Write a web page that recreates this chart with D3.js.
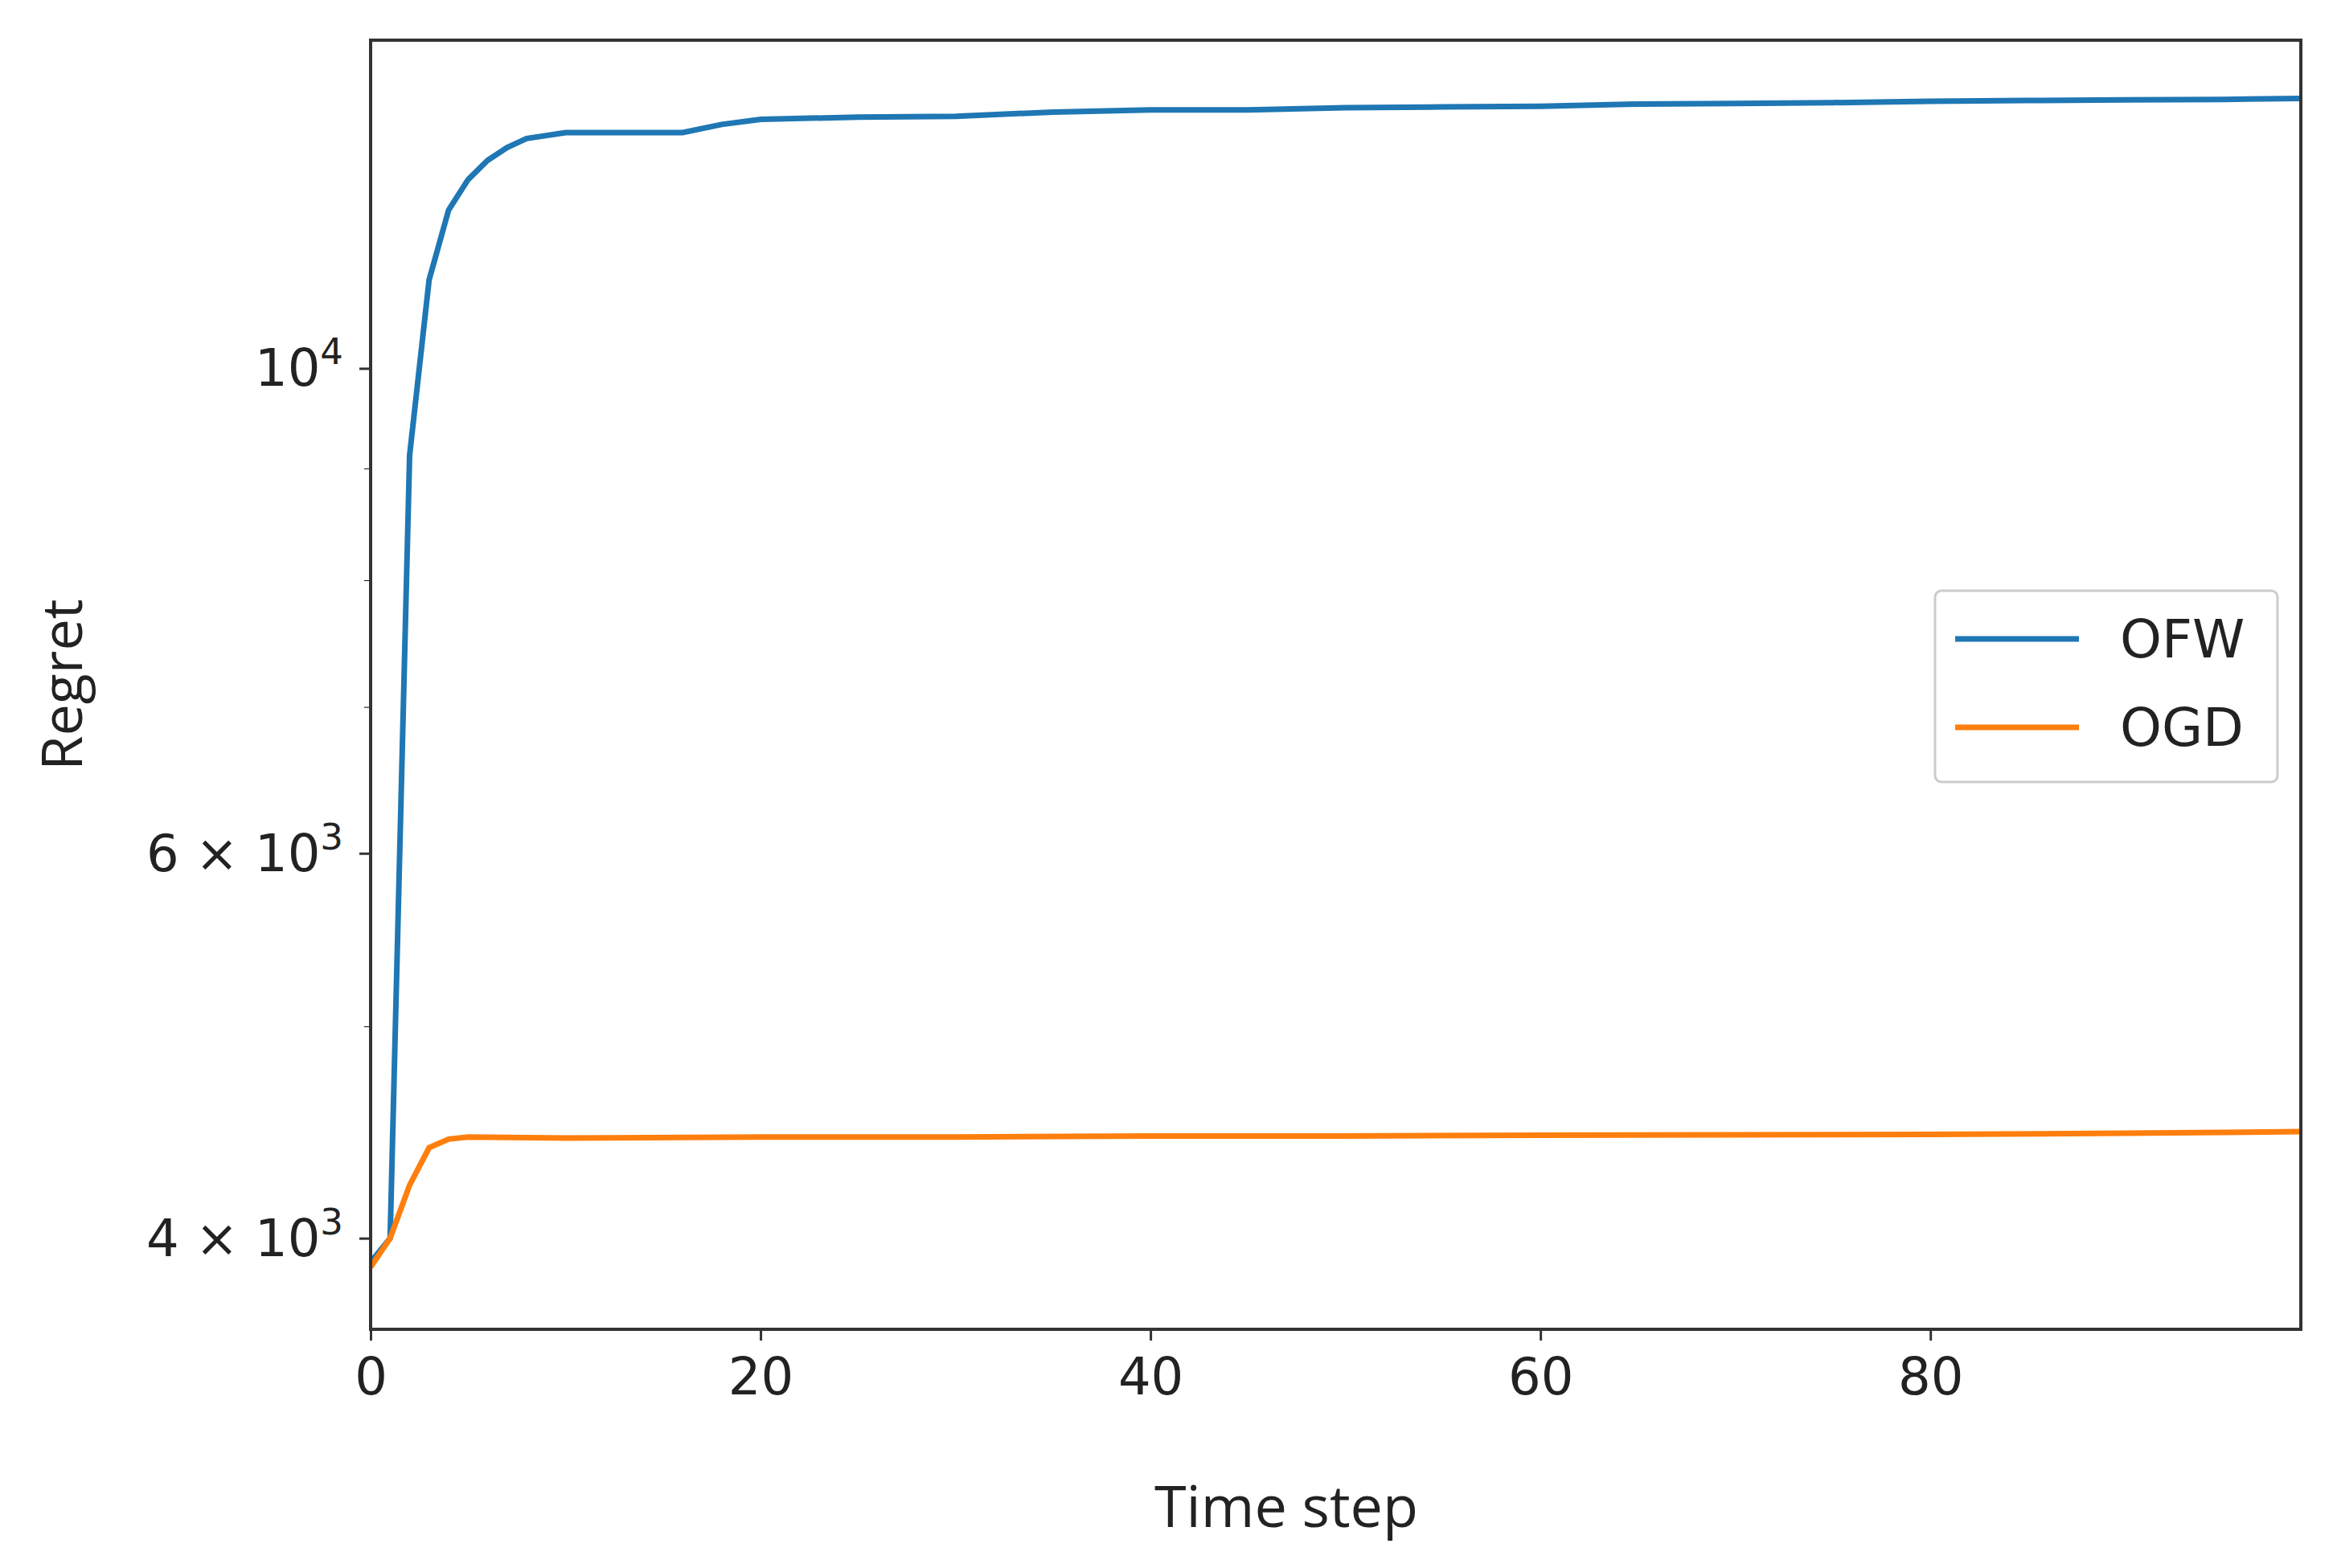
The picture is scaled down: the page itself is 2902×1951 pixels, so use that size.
<!DOCTYPE html>
<html><head><meta charset="utf-8">
<script src="https://cdn.jsdelivr.net/npm/d3@7"></script>
<style>body{margin:0;background:#fff}</style></head>
<body><svg id="c" width="2902" height="1951"></svg>
<script>
const ofwT = [0,1,2,3,4,5,6,7,8,10,12,16,18,20,25,30,35,40,45,50,55,60,65,70,75,80,85,90,95,99];
const ofwV = [3900,4000,9125,10977,11815,12200,12450,12620,12740,12820,12820,12820,12930,13000,13030,13040,13100,13130,13130,13160,13170,13180,13210,13220,13230,13250,13260,13270,13275,13290];
const ogdT = [0,1,2,3,4,5,10,20,30,40,50,60,70,80,90,99];
const ogdV = [3880,4000,4230,4400,4440,4450,4445,4450,4450,4455,4455,4458,4460,4462,4468,4475];
const xTicks = [0,20,40,60,80];
const yMajor = [4000,6000,10000];
const yMinor = [5000,7000,8000,9000];
const seriesNames = ["OFW","OGD"];
const colors = ["#1f77b4","#ff7f0e"];

const svg = d3.select("#c");
const L=461,R=2862,T=50,B=1654;
const x = d3.scaleLinear().domain([0,99]).range([L,R]);
const y = d3.scaleLog().domain([3634,14130]).range([B,T]);
const font = "'DejaVu Sans', sans-serif";
const line = d3.line().x(d=>x(d[0])).y(d=>y(d[1]));
const series = [d3.zip(ofwT,ofwV), d3.zip(ogdT,ogdV)];
const g = svg.append("g");
g.append("clipPath").attr("id","cp").append("rect").attr("x",L).attr("y",T).attr("width",R-L).attr("height",B-T);
series.forEach((s,i)=>g.append("path").attr("d",line(s)).attr("fill","none")
  .attr("stroke",colors[i]).attr("stroke-width",7).attr("clip-path","url(#cp)"));

const xa = svg.append("g").attr("transform",`translate(0,${B})`)
  .call(d3.axisBottom(x).tickValues(xTicks).tickSize(14).tickPadding(22).tickFormat(d3.format("d")));
const ya = svg.append("g").attr("transform",`translate(${L},0)`)
  .call(d3.axisLeft(y).tickValues(yMajor).tickSize(14).tickPadding(14).tickFormat(()=>""));
svg.append("g").attr("transform",`translate(${L},0)`)
  .call(d3.axisLeft(y).tickValues(yMinor).tickSize(8).tickFormat(()=>"")).select(".domain").remove();
[xa,ya].forEach(a=>{a.selectAll("line").attr("stroke","#333").attr("stroke-width",3);
  a.select(".domain").remove();
  a.selectAll("text").attr("font-family",font).attr("font-size",64).attr("fill","#222");});
const lbl = {4000:["4 × 10","3"],6000:["6 × 10","3"],10000:["10","4"]};
yMajor.forEach(v=>{
  const t = svg.append("text").attr("x",L-34).attr("y",y(v)+22).attr("text-anchor","end")
    .attr("font-family",font).attr("font-size",64).attr("fill","#222");
  t.append("tspan").text(lbl[v][0]);
  t.append("tspan").attr("dy",-27).attr("font-size",45).text(lbl[v][1]);
});
svg.append("rect").attr("x",L).attr("y",T).attr("width",R-L).attr("height",B-T)
  .attr("fill","none").attr("stroke","#333").attr("stroke-width",4);

svg.append("text").attr("x",1600).attr("y",1900).attr("text-anchor","middle")
  .attr("font-family","'Open Sans', sans-serif").attr("font-size",72).attr("fill","#222").text("Time step");
svg.append("text").attr("transform",`translate(102,${(T+B)/2}) rotate(-90)`).attr("text-anchor","middle")
  .attr("font-family","'Open Sans', sans-serif").attr("font-size",70).attr("fill","#222").text("Regret");

const lg = svg.append("g");
lg.append("rect").attr("x",2407).attr("y",735).attr("width",426).attr("height",238).attr("rx",8)
  .attr("fill","#fff").attr("stroke","#ccc").attr("stroke-width",3);
seriesNames.forEach((n,i)=>{
  const yy = 795+i*110;
  lg.append("line").attr("x1",2432).attr("x2",2586).attr("y1",yy).attr("y2",yy).attr("stroke",colors[i]).attr("stroke-width",7);
  lg.append("text").attr("x",2637).attr("y",yy+23).attr("font-family",font).attr("font-size",66).attr("fill","#222").text(n);
});
</script></body></html>
